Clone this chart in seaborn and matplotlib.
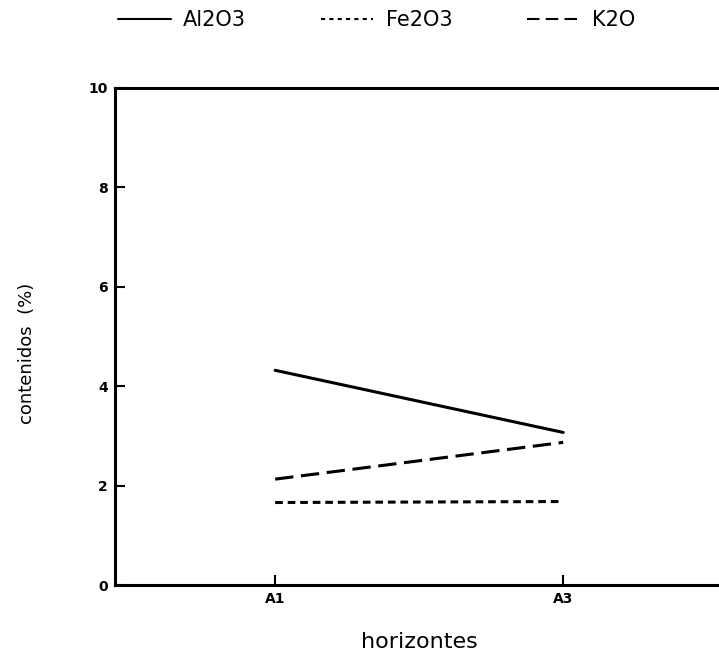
import matplotlib
matplotlib.use("Agg")
import matplotlib.pyplot as plt
from matplotlib.lines import Line2D
import seaborn as sns
import pandas as pd

# Soil horizons and oxide contents (%)
horizons = ["A1", "A3"]
al2o3 = [4.32, 3.07]
fe2o3 = [1.66, 1.68]
k2o = [2.13, 2.87]

series_names = ["Al2O3", "Fe2O3", "K2O"]
rows = []
for name, vals in zip(series_names, [al2o3, fe2o3, k2o]):
    for h, v in zip(horizons, vals):
        rows.append({"horizonte": h, "contenido": v, "serie": name})
df = pd.DataFrame(rows)

sns.set_style("white")
plt.rcParams["font.family"] = ["DejaVu Sans"]
plt.rcParams.update({
    "text.color": "black",
    "axes.labelcolor": "black",
    "xtick.color": "black",
    "ytick.color": "black",
})

fig = plt.figure(figsize=(7.19, 6.63), dpi=100)
ax = fig.add_axes([0.16, 0.1176, 0.846, 0.7497])

dash_map = {"Al2O3": "", "Fe2O3": (2.5, 1.6), "K2O": (6, 2.5)}
sns.lineplot(data=df, x="horizonte", y="contenido", hue="serie", style="serie",
             palette=["black"] * 3, dashes=dash_map, linewidth=2.2,
             sort=False, ax=ax, legend=False)

ax.set_xlim(-0.556, 1.556)
ax.set_ylim(0, 10)
ax.set_yticks([0, 2, 4, 6, 8, 10])
ax.set_xticks([0, 1])
ax.set_xticklabels(horizons)
for lab in ax.get_xticklabels() + ax.get_yticklabels():
    lab.set_fontweight("bold")
    lab.set_fontsize(10)
ax.tick_params(axis="both", direction="in", length=7, width=1.5, color="black",
               left=True, bottom=True, pad=5)
for side in ["left", "bottom", "top", "right"]:
    ax.spines[side].set_color("black")
    ax.spines[side].set_linewidth(2.2)

ax.set_xlabel("horizontes", fontsize=16, labelpad=19)
ax.set_ylabel("contenidos  (%)", fontsize=13)
ax.yaxis.set_label_coords(-0.13, 0.467)

handles = [
    Line2D([], [], color="black", lw=1.5),
    Line2D([], [], color="black", lw=1.5, dashes=(2, 2)),
    Line2D([], [], color="black", lw=1.5, dashes=(6, 3)),
]
fig.legend(handles, series_names, loc="center", bbox_to_anchor=(0.524, 0.970),
           ncol=3, frameon=False, fontsize=15, handlelength=2.5,
           columnspacing=3.6, handletextpad=0.6)

fig.savefig("out.png", dpi=100)
